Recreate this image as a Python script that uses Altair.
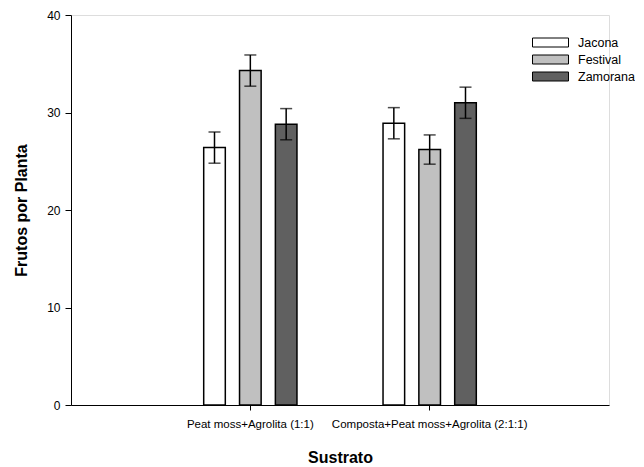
import altair as alt
import pandas as pd

sustratos = ["Peat moss+Agrolita (1:1)", "Composta+Peat moss+Agrolita (2:1:1)"]
variedades = ["Jacona", "Festival", "Zamorana"]
colores = ["#ffffff", "#c0c0c0", "#606060"]
# mean values per sustrato (rows) and variedad (columns)
medias = [
    [26.4, 34.3, 28.8],
    [28.9, 26.2, 31.0],
]
errores = [
    [1.6, 1.6, 1.6],
    [1.6, 1.5, 1.6],
]

rows = []
for i, s in enumerate(sustratos):
    for j, v in enumerate(variedades):
        m = medias[i][j]
        e = errores[i][j]
        rows.append({"Sustrato": s, "Variedad": v, "media": m,
                     "lo": m - e, "hi": m + e})
df = pd.DataFrame(rows)

font = "Liberation Sans"

x_enc = alt.X("Sustrato:N", sort=sustratos,
              scale=alt.Scale(paddingInner=0.4, paddingOuter=0.7),
              axis=alt.Axis(title="Sustrato", labelAngle=0, labelFontSize=11.5,
                            labelFont=font, labelColor="#000000", labelLimit=0,
                            titleFont=font, titleFontSize=16, titleFontWeight="bold",
                            titleColor="#000000", tickSize=5, tickColor="#000000",
                            domainColor="#000000", labelPadding=8, titlePadding=20,
                            grid=False))
xo_enc = alt.XOffset("Variedad:N", sort=variedades,
                     scale=alt.Scale(paddingInner=0.397, paddingOuter=0.2))

base = alt.Chart(df)

bars = base.mark_bar(stroke="#000000", strokeWidth=1.5).encode(
    x=x_enc,
    xOffset=xo_enc,
    y=alt.Y("media:Q", scale=alt.Scale(domain=[0, 40]),
            axis=alt.Axis(title="Frutos por Planta", values=[0, 10, 20, 30, 40],
                          labelFontSize=12, labelFont=font, labelColor="#000000",
                          titleFont=font, titleFontSize=16, titleFontWeight="bold",
                          titleColor="#000000", tickSize=6, tickColor="#000000",
                          domainColor="#000000", labelPadding=5, titlePadding=17,
                          grid=False)),
    fill=alt.Fill("Variedad:N", sort=variedades,
                  scale=alt.Scale(domain=variedades, range=colores),
                  legend=alt.Legend(title=None, orient="none", legendX=470, legendY=18,
                                    symbolType="M-2,-0.5L2,-0.5L2,0.5L-2,0.5Z",
                                    symbolSize=324, symbolStrokeColor="#000000",
                                    symbolStrokeWidth=1, labelFont=font,
                                    labelFontSize=12.5, labelColor="#000000",
                                    labelOffset=18, rowPadding=1, padding=0)),
)

rules = base.mark_rule(color="#000000", strokeWidth=1.5).encode(
    x=alt.X("Sustrato:N", sort=sustratos),
    xOffset=alt.XOffset("Variedad:N", sort=variedades),
    y="lo:Q",
    y2="hi:Q",
)

cap_hi = base.mark_tick(color="#000000", thickness=1.5, size=12).encode(
    x=alt.X("Sustrato:N", sort=sustratos),
    xOffset=alt.XOffset("Variedad:N", sort=variedades),
    y="hi:Q",
)
cap_lo = base.mark_tick(color="#000000", thickness=1.5, size=12).encode(
    x=alt.X("Sustrato:N", sort=sustratos),
    xOffset=alt.XOffset("Variedad:N", sort=variedades),
    y="lo:Q",
)

chart = alt.layer(bars, rules, cap_hi, cap_lo).properties(
    width=538, height=390,
    padding={"left": 5, "top": 1, "right": 0, "bottom": 0},
).configure_view(stroke=None).configure(background="#ffffff")

chart.save("out.html", embed_options={"renderer": "svg", "actions": False})
